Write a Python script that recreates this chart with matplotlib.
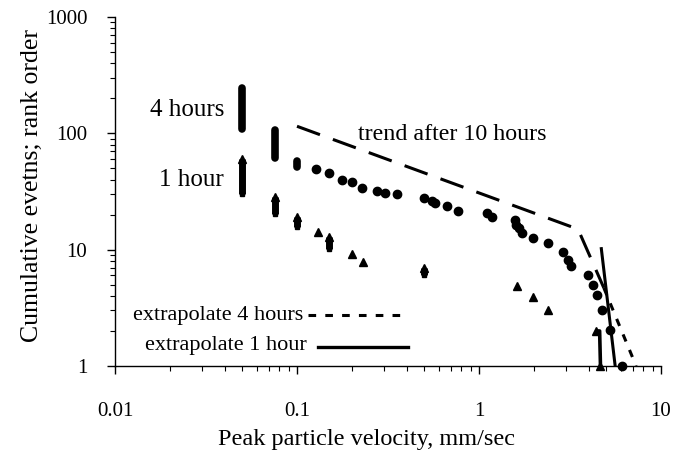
import matplotlib
matplotlib.use("Agg")
import matplotlib.pyplot as plt
from matplotlib.ticker import FixedLocator, FixedFormatter, LogLocator, NullFormatter

plt.rcParams['font.family'] = ['Liberation Serif', 'DejaVu Serif']

# --- 4-hour record (circles) ---
# dense columns at the trigger-level velocities: ppv, lowest rank, highest rank
four_col_ppv = [0.05, 0.076, 0.1]
four_col_lo = [110, 61, 51]
four_col_hi = [244, 106, 58]
# individual events
four_ppv = [0.127, 0.15, 0.177, 0.2, 0.228, 0.275, 0.305, 0.355, 0.5, 0.554, 0.57,
            0.667, 0.77, 1.1, 1.18, 1.58, 1.6, 1.66, 1.72, 1.98, 2.39, 2.9, 3.08, 3.2,
            3.97, 4.23, 4.45, 4.73, 5.25, 6.1]
four_rank = [49, 46, 40, 38, 34, 32, 31, 30, 28, 26, 25,
             23.5, 21.3, 20.7, 19.2, 18.1, 16.4, 15.5, 14, 12.7, 11.3, 9.6, 8.2, 7.3,
             6.1, 5, 4.1, 3.05, 2.05, 1]

# --- 1-hour record (triangles) ---
one_col_ppv = [0.05, 0.076, 0.1, 0.15, 0.5]
one_col_lo = [30, 20.4, 15.8, 10.2, 6.1]
one_col_hi = [60, 28.6, 19.2, 12.9, 6.9]
one_ppv = [0.13, 0.2, 0.23, 1.62, 1.98, 2.39, 4.4, 4.65]
one_rank = [14.3, 9.1, 7.9, 4.9, 3.9, 3.0, 2.0, 1.0]

# --- trend and extrapolation lines ---
trend_ppv = [0.1, 3.5, 4.85]
trend_rank = [115, 15, 4.7]
extrap4_ppv = [4.85, 7.3]
extrap4_rank = [4.7, 1]
extrap1_ppv = [4.7, 5.6]
extrap1_rank = [10.2, 1]
tail1_ppv = [4.45, 4.6, 4.65]
tail1_rank = [2.0, 2.0, 1.0]

fig = plt.figure(figsize=(6.74, 4.61), dpi=100)
ax = fig.add_axes([115 / 674, 1 - 366 / 461, 546 / 674, 349 / 461])
ax.set_xscale('log')
ax.set_yscale('log')
ax.set_xlim(0.01, 10)
ax.set_ylim(1, 1000)

# columns of stacked events
ax.vlines(four_col_ppv, four_col_lo, four_col_hi, colors='black', linewidth=5.5,
          capstyle='round')
ax.vlines(one_col_ppv, one_col_lo, one_col_hi, colors='black', linewidth=5.0,
          capstyle='butt')
ax.plot(one_col_ppv, one_col_hi, '^', color='black', markersize=6, clip_on=False)
ax.plot(one_col_ppv, one_col_lo, 's', color='black', markersize=3.5, clip_on=False)

ax.plot(four_ppv, four_rank, 'o', color='black', markersize=6, clip_on=False)
ax.plot(one_ppv, one_rank, '^', color='black', markersize=6, clip_on=False)

ax.plot(trend_ppv, trend_rank, color='black', linewidth=2.2, dashes=(8, 4.5))
ax.plot(extrap4_ppv, extrap4_rank, color='black', linewidth=2.2, dashes=(2.5, 3))
ax.plot(extrap1_ppv, extrap1_rank, color='black', linewidth=2.2)
ax.plot(tail1_ppv, tail1_rank, color='black', linewidth=2.6)

# annotations
ax.text(0.2, 0.733, '4 hours', transform=ax.transAxes, ha='right', va='center', fontsize=18)
ax.text(0.2, 0.532, '1 hour', transform=ax.transAxes, ha='right', va='center', fontsize=18)
ax.text(0.445, 0.662, 'trend after 10 hours', transform=ax.transAxes, ha='left',
        va='center', fontsize=17.3)
ax.text(0.033, 0.146, 'extrapolate 4 hours', transform=ax.transAxes, ha='left',
        va='center', fontsize=16)
ax.text(0.055, 0.06, 'extrapolate 1 hour', transform=ax.transAxes, ha='left',
        va='center', fontsize=16)
ax.plot([0.354, 0.523], [0.146, 0.146], transform=ax.transAxes, color='black',
        linewidth=2.2, dashes=(2.5, 3))
ax.plot([0.372, 0.537], [0.054, 0.054], transform=ax.transAxes, color='black',
        linewidth=2.4)

# axes styling
for side in ('top', 'right'):
    ax.spines[side].set_visible(False)
for side in ('left', 'bottom'):
    ax.spines[side].set_linewidth(1.0)

ax.xaxis.set_major_locator(FixedLocator([0.01, 0.1, 1, 10]))
ax.xaxis.set_major_formatter(FixedFormatter(['0.01', '0.1', '1', '10']))
ax.yaxis.set_major_locator(FixedLocator([1, 10, 100, 1000]))
ax.yaxis.set_major_formatter(FixedFormatter(['1', '10', '100', '1000']))
for axis in (ax.xaxis, ax.yaxis):
    axis.set_minor_locator(LogLocator(base=10, subs=range(2, 10)))
    axis.set_minor_formatter(NullFormatter())
ax.tick_params(which='major', direction='out', length=6, width=1, labelsize=15)
ax.tick_params(which='minor', direction='out', length=3.5, width=0.8)
ax.tick_params(axis='x', which='major', pad=20)
ax.tick_params(axis='y', which='major', pad=14)

ax.set_xlabel('Peak particle velocity, mm/sec', fontsize=17.5, labelpad=5)
ax.xaxis.set_label_coords(0.4615, -0.18)
ax.set_ylabel('Cumulative evetns; rank order', fontsize=18.5)
ax.yaxis.set_label_coords(-0.132, 0.517)

fig.savefig('out.png', dpi=100)
